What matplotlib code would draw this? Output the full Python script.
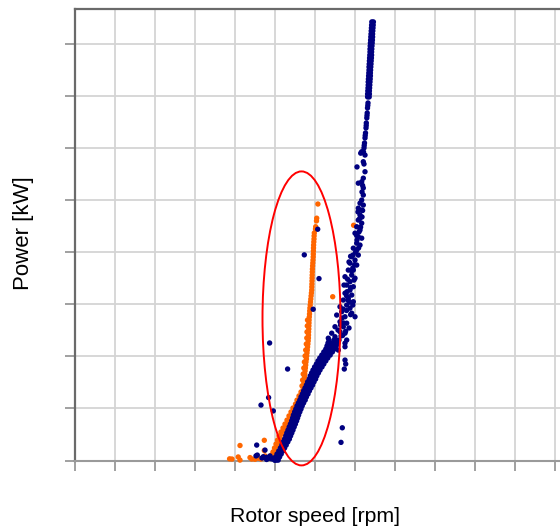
import matplotlib
matplotlib.use("Agg")
import matplotlib.pyplot as plt
import numpy as np
from matplotlib.patches import Ellipse

# dense lower part of the normal curve (rotor speed lo / mid / hi per power level)
navy_band_kw = [2, 17, 31, 46, 60, 74, 89, 103, 118, 132, 146, 161, 175, 190, 204, 218, 233, 247, 262, 276,
                290, 305, 319, 334, 348, 362, 377, 391, 406, 420, 434, 449, 463, 478, 492, 506, 521, 535, 550, 564, 578]
navy_band_lo = [10.0, 10.06, 10.12, 10.21, 10.29, 10.36, 10.43, 10.50, 10.56, 10.61, 10.67, 10.73, 10.79, 10.85,
                10.90, 10.94, 11.0, 11.06, 11.12, 11.19, 11.26, 11.32, 11.39, 11.45, 11.52, 11.59, 11.65, 11.73,
                11.78, 11.85, 11.92, 12.0, 12.09, 12.17, 12.26, 12.36, 12.46, 12.56, 12.62, 12.67, 12.72]
navy_band_mid = [10.1, 10.16, 10.23, 10.32, 10.40, 10.47, 10.55, 10.62, 10.68, 10.74, 10.80, 10.86, 10.92, 10.98,
                 11.03, 11.07, 11.13, 11.19, 11.25, 11.32, 11.40, 11.46, 11.53, 11.60, 11.67, 11.75, 11.81, 11.89,
                 11.95, 12.02, 12.10, 12.19, 12.28, 12.37, 12.46, 12.57, 12.68, 12.79, 12.85, 12.91, 12.97]
navy_band_hi = [10.18, 10.25, 10.33, 10.42, 10.50, 10.58, 10.66, 10.74, 10.80, 10.86, 10.92, 10.98, 11.04, 11.10,
                11.15, 11.20, 11.26, 11.32, 11.38, 11.45, 11.53, 11.59, 11.67, 11.74, 11.82, 11.90, 11.97, 12.05,
                12.11, 12.19, 12.27, 12.37, 12.46, 12.56, 12.66, 12.78, 12.89, 13.0, 13.08, 13.15, 13.22]

# dense top part near rated power
navy_top_kw = [2105, 2090, 2076, 2062, 2047, 2033, 2018, 2004, 1990, 1975, 1961, 1946, 1932,
               1918, 1903, 1889, 1874, 1860, 1846, 1831, 1817, 1802, 1788, 1774, 1759, 1745]
navy_top_lo = [14.86, 14.85, 14.84, 14.83, 14.82, 14.81, 14.80, 14.79, 14.78, 14.77, 14.77, 14.76, 14.75,
               14.74, 14.73, 14.72, 14.72, 14.71, 14.70, 14.69, 14.68, 14.68, 14.67, 14.66, 14.65, 14.65]
navy_top_hi = [14.94, 14.93, 14.92, 14.91, 14.90, 14.90, 14.89, 14.88, 14.87, 14.86, 14.85, 14.85, 14.84,
               14.83, 14.82, 14.81, 14.80, 14.79, 14.79, 14.78, 14.77, 14.76, 14.75, 14.74, 14.74, 14.73]

# remaining normal-operation points
navy_rpm = [9.07, 9.105, 9.135, 9.32, 9.70, 9.935, 9.75, 10.65, 11.485, 12.155, 12.22, 11.93, 9.435, 9.52,
            9.605, 9.37, 9.695, 9.77, 9.935, 10.105, 10.02, 13.385, 13.32, 13.52, 13.555, 13.485, 9.85, 9.60,
            14.435, 14.355, 14.27, 14.435, 14.185, 14.355, 14.27, 14.185, 14.355, 14.105, 14.27, 14.02, 14.185,
            14.355, 14.105, 14.27, 13.935, 14.105, 14.185, 13.855, 14.02, 13.77, 14.105, 13.935, 13.685, 13.855,
            13.52, 14.02, 13.77, 13.605, 13.935, 13.77, 13.52, 13.855, 13.685, 13.435, 13.935, 13.605, 13.27,
            13.77, 13.355, 13.855, 13.105, 13.52, 14.02, 13.27, 13.605, 13.02, 13.435, 13.27, 12.855, 13.52,
            13.02, 12.685, 13.605, 12.77, 13.52, 13.52, 13.185,
            13.67, 13.37, 13.72, 13.17, 13.91, 13.62, 13.47, 13.91, 13.72, 13.92, 14.12, 14.22, 14.17, 14.37,
            13.97, 13.32, 13.07, 13.42,
            13.80, 13.45, 13.30, 13.55, 13.40, 13.15, 13.60, 13.80, 13.65, 13.85, 14.00, 13.80, 14.05, 14.20,
            14.10, 14.30, 14.25, 14.40, 13.75, 13.60,
            14.355, 14.435, 14.185, 14.52, 14.435, 14.12, 14.52, 14.355, 14.305, 14.47, 14.435, 14.37, 14.40,
            14.67, 14.645, 14.63, 14.61, 14.585, 14.57, 14.545, 14.52, 14.495, 14.47, 14.445, 14.66, 14.62,
            14.58, 14.53, 14.48]
navy_kw = [22, 74, 26, 266, 302, 238, 564, 439, 987, 1110, 873, 726, 18, 50,
           15, 12, 10, 22, 11, 18, 2, 157, 87, 482, 463, 439, 8, 5,
           1274, 1250, 1235, 1226, 1211, 1202, 1178, 1154, 1139, 1122, 1106, 1091, 1074,
           1067, 1043, 1034, 1019, 1010, 986, 978, 962, 947, 938, 914, 914, 890,
           882, 875, 858, 842, 834, 818, 803, 794, 779, 770, 762, 746, 738,
           731, 714, 707, 698, 690, 690, 666, 659, 642, 642, 618, 611, 611,
           594, 587, 578, 563, 563, 546, 530,
           770, 684, 636, 626, 746, 810, 842, 924, 953, 986, 1058, 1097, 1193, 1169,
           866, 598, 578, 727,
           700, 660, 650, 620, 600, 560, 790, 830, 870, 910, 940, 980, 1000, 1020,
           1080, 1120, 1160, 1200, 760, 720,
           1338, 1355, 1331, 1386, 1434, 1409, 1466, 1482, 1475, 1423, 1308, 1289, 1320,
           1716, 1692, 1668, 1644, 1620, 1596, 1572, 1548, 1524, 1500, 1481, 1704, 1656,
           1608, 1560, 1512]

# abnormal (orange) points
orange_rpm = [11.985, 11.975, 11.97, 11.96, 11.95, 11.945, 11.94, 11.935, 11.93, 11.92, 11.91, 11.90, 11.89,
              11.885, 11.88, 11.875, 11.87, 11.865, 11.86, 11.855, 11.84, 11.825, 11.81, 11.795, 11.78, 11.765,
              11.755, 11.745, 11.735, 11.725, 11.72, 11.715, 11.71, 11.70, 11.695, 11.69, 11.68, 11.665, 11.65,
              11.635, 11.62, 11.605, 11.59, 11.57, 11.555, 11.54, 11.525, 11.51, 11.495, 11.48, 11.465, 11.45,
              11.435,
              11.645, 11.635, 11.62, 11.61, 11.585, 11.555, 11.525, 11.49, 11.46, 11.43, 11.40, 11.37,
              12.165, 12.105, 12.095, 12.055, 12.045,
              11.32, 11.22, 11.12, 11.045, 10.92, 10.82, 10.72, 10.62, 10.52, 10.42, 10.32, 10.22, 10.145, 10.07,
              9.995, 9.92, 9.845, 9.77,
              11.40, 11.30, 11.20, 11.08, 10.97, 10.87, 10.77, 10.67, 10.57, 10.47, 10.37, 10.27, 10.19, 10.11,
              10.03, 9.96,
              7.75, 8.18, 8.27, 8.27, 8.77, 8.855, 9.02, 9.185, 9.485, 9.485, 9.77, 9.52, 9.32, 7.87, 12.905, 13.95]
orange_kw = [1092, 1078, 1063, 1049, 1034, 1020, 1006, 991, 977, 962, 948, 934, 919,
             905, 890, 876, 862, 847, 833, 818, 804, 790, 775, 761, 746, 732,
             718, 703, 689, 674, 660, 646, 631, 617, 602, 588, 574, 559, 545,
             530, 516, 502, 487, 473, 458, 444, 430, 415, 401, 386, 372, 358,
             343,
             674, 646, 617, 588, 559, 530, 502, 473, 444, 415, 386, 358,
             1231, 1163, 1150, 1122, 1111,
             329, 310, 290, 271, 252, 233, 214, 194, 175, 156, 137, 118, 98, 79,
             60, 41, 26, 17,
             320, 300, 280, 261, 242, 223, 204, 185, 166, 146, 127, 108, 89, 70,
             50, 34,
             8, 17, 72, 2, 14, 7, 6, 11, 97, 48, 18, 22, 7, 7, 786, 1129]

# highlighted region
ellipse_center = (11.345, 682)
ellipse_size = (3.9, 1411)

navy_x = navy_band_lo + navy_band_mid + navy_band_hi + navy_top_lo + navy_top_hi + navy_rpm
navy_y = navy_band_kw * 3 + navy_top_kw * 2 + navy_kw

fig = plt.figure(figsize=(5.6, 5.27), dpi=100)
ax = fig.add_axes([74.6 / 560, 66.5 / 527, 520 / 560, 451.5 / 527])
ax.set_xlim(0, 26)
ax.set_ylim(0, 2167)
ax.set_xticks(np.arange(0, 27, 2))
ax.set_yticks(np.arange(0, 2167, 250))
ax.set_xticklabels([]); ax.set_yticklabels([])
ax.tick_params(axis="both", direction="out", length=7, width=1.3, color="#999999")
ax.set_axisbelow(True)
ax.grid(True, color="#d4d4d4", linewidth=1.3)
for side in ["left", "top", "right"]:
    ax.spines[side].set_color("#6a6a6a"); ax.spines[side].set_linewidth(1.6)
ax.spines["bottom"].set_color("#9a9a9a"); ax.spines["bottom"].set_linewidth(1.5)

ax.scatter(orange_rpm, orange_kw, s=15, color="#FF6600", edgecolors="none", clip_on=False, zorder=3)
ax.scatter(navy_x, navy_y, s=15, color="#000080", edgecolors="none", clip_on=False, zorder=3.5)
ax.add_patch(Ellipse(ellipse_center, *ellipse_size, fill=False, edgecolor="red", linewidth=1.4,
                     clip_on=False, zorder=4))

fig.text(314.7 / 560, 4.5 / 527, "Rotor speed [rpm]", ha="center", va="baseline",
         fontsize=15.3, family="Liberation Sans")
fig.text(24 / 560, 293.5 / 527, "Power [kW]", rotation=90, ha="center", va="center",
         fontsize=16, family="Liberation Sans")
fig.savefig("out.png", dpi=100)
